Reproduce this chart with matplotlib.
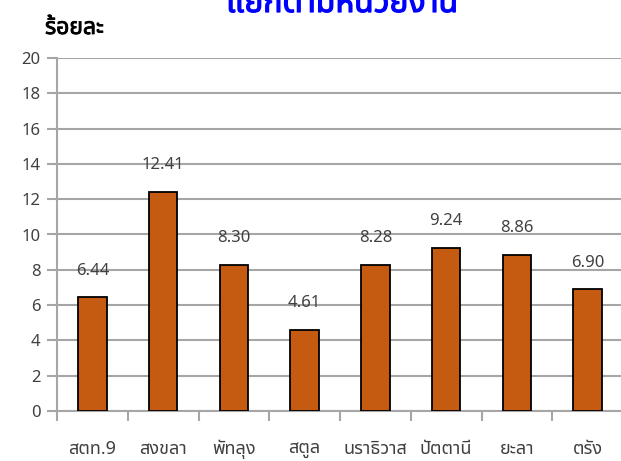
import matplotlib
matplotlib.use("Agg")
import matplotlib.pyplot as plt
import matplotlib.patheffects as pe

categories = ["สตท.9", "สงขลา", "พัทลุง", "สตูล", "นราธิวาส", "ปัตตานี", "ยะลา", "ตรัง"]
values = [6.44, 12.41, 8.30, 4.61, 8.28, 9.24, 8.86, 6.90]
y_ticks = [0, 2, 4, 6, 8, 10, 12, 14, 16, 18, 20]
title_text = "แยกตามหน่วยงาน"
ylabel_text = "ร้อยละ"

plt.rcParams["font.family"] = ["Noto Sans Thai", "DejaVu Sans"]

fig = plt.figure(figsize=(6.21, 4.61), dpi=100)
ax = fig.add_axes([57 / 621, 1 - 411 / 461, 566 / 621, 353 / 461])

x = list(range(len(categories)))
ax.bar(x, values, width=0.4, color="#C55A11", edgecolor="black",
       linewidth=1.3, zorder=3)

for xi, v in zip(x, values):
    ax.text(xi, v + 1.5, f"{v:.2f}", ha="center", va="center",
            fontsize=12, color="#404040")

ax.set_xlim(-0.5, len(categories) - 0.5)
ax.set_ylim(0, 20)
ax.set_yticks(y_ticks)
ax.set_yticklabels([str(t) for t in y_ticks])
ax.yaxis.grid(True, color="#A6A6A6", linewidth=1.5, zorder=0)
ax.set_axisbelow(True)

for s in ["top", "right"]:
    ax.spines[s].set_visible(False)
for s in ["left", "bottom"]:
    ax.spines[s].set_color("#A6A6A6")
    ax.spines[s].set_linewidth(1.5)

ax.tick_params(axis="y", length=7, width=1.5, color="#A6A6A6",
               labelsize=12, labelcolor="#404040", pad=5)

# separators between categories on the x axis
ax.set_xticks([i - 0.5 for i in range(len(categories) + 1)])
ax.set_xticklabels([""] * (len(categories) + 1))
ax.tick_params(axis="x", length=7, width=1.5, color="#A6A6A6")
for xi, c in zip(x, categories):
    ax.text(xi, -2.15, c, ha="center", va="center", fontsize=13,
            color="#404040", clip_on=False)

# heavier strokes give the bold look for the headings
fig.text(45 / 621, 1 - 34 / 461, ylabel_text, ha="left", va="baseline",
         fontsize=16.5, color="black",
         path_effects=[pe.withStroke(linewidth=0.6, foreground="black")])
fig.text(342 / 621, 1 - 12 / 461, title_text, ha="center", va="baseline",
         fontsize=23, color="#0000FF",
         path_effects=[pe.withStroke(linewidth=0.9, foreground="#0000FF")])

fig.savefig("out.png", dpi=100)
